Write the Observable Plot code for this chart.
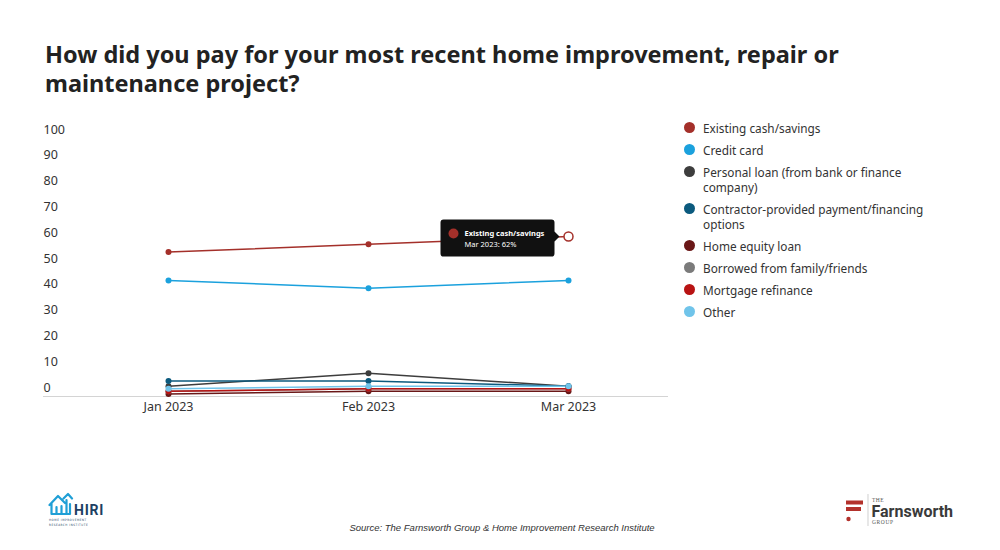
<!DOCTYPE html>
<html>
<head>
<meta charset="utf-8">
<script src="https://cdn.jsdelivr.net/npm/d3@7"></script>
<script src="https://cdn.jsdelivr.net/npm/@observablehq/plot@0.6"></script>
<style>
  html, body { margin: 0; padding: 0; background: #fff; }
  #wrap { position: relative; width: 1000px; height: 550px; overflow: hidden; font-family: "Noto Sans", "Open Sans", sans-serif; color: #333; }
  #title { position: absolute; left: 45px; top: 40px; font-size: 23.5px; font-weight: 700; line-height: 29px; color: #222; margin: 0; white-space: nowrap; }
  #chart { position: absolute; left: 0; top: 110px; }
  #legend { position: absolute; left: 684px; top: 120.5px; font-size: 11.8px; line-height: 15px; color: #333; }
  .item { position: relative; padding-left: 19px; width: 229px; margin-bottom: 7px; }
  .sw { position: absolute; left: 0; top: 1.5px; width: 11px; height: 11px; border-radius: 50%; }
  #source { position: absolute; left: 0; width: 1004px; top: 522px; text-align: center; font-family: "Liberation Sans", Arial, sans-serif; font-style: italic; font-size: 9.5px; color: #333; }
  #hiri { position: absolute; left: 46px; top: 490px; }
  #farn { position: absolute; left: 844px; top: 492px; }
</style>
</head>
<body>
<div id="wrap">
  <h1 id="title">How did you pay for your most recent home improvement, repair or<br>maintenance project?</h1>
  <div id="chart"></div>
  <div id="legend"></div>
  <div id="source">Source: The Farnsworth Group &amp; Home Improvement Research Institute</div>
  <div id="hiri">
    <svg width="66" height="40" viewBox="0 0 66 40">
      <path d="M3.5 15 L12 6 L19 13 M5.5 13 V24 H24 V14 M10.5 24 V17 M15.5 24 V16 M20.5 24 V10 M17.5 8.5 L22 4 L26 8.5" fill="none" stroke="#1f9fd6" stroke-width="2.2" stroke-linejoin="round" stroke-linecap="round"/>
      <text x="28" y="24.5" font-family="Roboto, 'Noto Sans', sans-serif" font-weight="700" font-size="14" fill="#1d3f63" letter-spacing="0.8">HIRI</text>
      <text x="3" y="30.5" font-family="'DejaVu Sans Condensed', 'Noto Sans', sans-serif" font-size="3" fill="#1d3f63" letter-spacing="0.55">HOME IMPROVEMENT</text>
      <text x="3" y="36" font-family="'DejaVu Sans Condensed', 'Noto Sans', sans-serif" font-size="3" fill="#1d3f63" letter-spacing="0.55">RESEARCH INSTITUTE</text>
    </svg>
  </div>
  <div id="farn">
    <svg width="118" height="36" viewBox="0 0 118 36">
      <rect x="2" y="8.5" width="17" height="4" fill="#b3312b"/>
      <rect x="2" y="15" width="15" height="4" fill="#b3312b"/>
      <circle cx="4.5" cy="27" r="2.2" fill="#b3312b"/>
      <line x1="24" y1="2" x2="24" y2="34" stroke="#bbb" stroke-width="0.7"/>
      <text x="28" y="9.5" font-family="'Liberation Serif', serif" font-size="5.5" fill="#555" letter-spacing="0.5">THE</text>
      <text x="27.5" y="24.5" font-family="Roboto, 'Noto Sans', sans-serif" font-weight="700" font-size="16" fill="#3a3a3a">Farnsworth</text>
      <text x="28" y="31.5" font-family="'Liberation Serif', serif" font-size="5.5" fill="#555" letter-spacing="0.6">GROUP</text>
    </svg>
  </div>
</div>
<script>
const months = ["Jan 2023", "Feb 2023", "Mar 2023"];
const seriesNames = [
  "Existing cash/savings",
  "Credit card",
  "Personal loan (from bank or finance company)",
  "Contractor-provided payment/financing options",
  "Home equity loan",
  "Borrowed from family/friends",
  "Mortgage refinance",
  "Other"
];
const seriesColors = ["#a4302a", "#1ba1dd", "#3d3d3d", "#0b5a7e", "#6a1717", "#7b7b7b", "#b81313", "#70c4ea"];
const existingCash = [56, 59, 62];
const creditCard = [45, 42, 45];
const personalLoan = [4, 9, 4];
const contractor = [6, 6, 4];
const homeEquity = [1, 2, 2];
const borrowed = [2, 3, 3];
const mortgageRefi = [2, 3, 3];
const other = [3, 4, 4];
const yTicks = [0, 10, 20, 30, 40, 50, 60, 70, 80, 90, 100];
const highlight = { series: "Existing cash/savings", month: "Mar 2023" };

const allValues = [existingCash, creditCard, personalLoan, contractor, homeEquity, borrowed, mortgageRefi, other];
const data = [];
seriesNames.forEach((s, i) => months.forEach((m, j) => data.push({ series: s, month: m, value: allValues[i][j] })));
const hi = data.filter(d => d.series === highlight.series && d.month === highlight.month);

// tooltip shape drawn relative to the highlighted data point
const tipShape = {
  draw(ctx) {
    ctx.moveTo(-125, -17); ctx.lineTo(-17, -17);
    ctx.arcTo(-14, -17, -14, -14, 3);
    ctx.lineTo(-14, -5); ctx.lineTo(-9, 0); ctx.lineTo(-14, 5);
    ctx.lineTo(-14, 17);
    ctx.arcTo(-14, 20, -17, 20, 3);
    ctx.lineTo(-125, 20);
    ctx.arcTo(-128, 20, -128, 17, 3);
    ctx.lineTo(-128, -14);
    ctx.arcTo(-128, -17, -125, -17, 3);
    ctx.closePath();
  }
};

const chart = Plot.plot({
  width: 1000,
  height: 330,
  marginLeft: 43,
  marginRight: 332,
  marginTop: 28,
  marginBottom: 44,
  style: { fontFamily: "'Noto Sans', 'Open Sans', sans-serif", fontSize: "12.5px", color: "#333", background: "transparent" },
  x: { type: "point", domain: months, range: [168, 568], padding: 0, label: null },
  y: { domain: [0, 100], label: null },
  color: { domain: seriesNames, range: seriesColors },
  marks: [
    Plot.ruleY([0], { stroke: "#d4d4d4", strokeWidth: 1 }),
    Plot.axisY({ ticks: yTicks, tickSize: 0, tickPadding: 0, textAnchor: "start", dy: -9, label: null, fill: "#333" }),
    Plot.axisX({ tickSize: 0, tickPadding: 6, label: null, fill: "#333" }),
    Plot.line(data, { x: "month", y: "value", z: "series", stroke: "series", strokeWidth: 1.5 }),
    Plot.dot(data.filter(d => !(d.series === highlight.series && d.month === highlight.month)), { x: "month", y: "value", fill: "series", r: 3 }),
    Plot.dot(hi, { x: "month", y: "value", fill: "#fff", stroke: "series", strokeWidth: 1.5, r: 4.5 }),
    Plot.dot(hi, { x: "month", y: "value", symbol: tipShape, r: 10, fill: "#111", stroke: "none" }),
    Plot.dot(hi, { x: "month", y: "value", fill: "series", r: 5, dx: -115, dy: -3 }),
    Plot.text(hi, { x: "month", y: "value", text: d => d.series, fill: "#fff", fontWeight: 700, fontSize: 7.5, textAnchor: "start", dx: -104, dy: -3 }),
    Plot.text(hi, { x: "month", y: "value", text: d => `${d.month}: ${d.value}%`, fill: "#fff", fontSize: 7.5, textAnchor: "start", dx: -104, dy: 8 })
  ]
});
document.getElementById("chart").appendChild(chart);

const legend = document.getElementById("legend");
seriesNames.forEach((s, i) => {
  const item = document.createElement("div");
  item.className = "item";
  const sw = document.createElement("span");
  sw.className = "sw";
  sw.style.background = seriesColors[i];
  item.appendChild(sw);
  item.appendChild(document.createTextNode(s));
  legend.appendChild(item);
});
</script>
</body>
</html>
